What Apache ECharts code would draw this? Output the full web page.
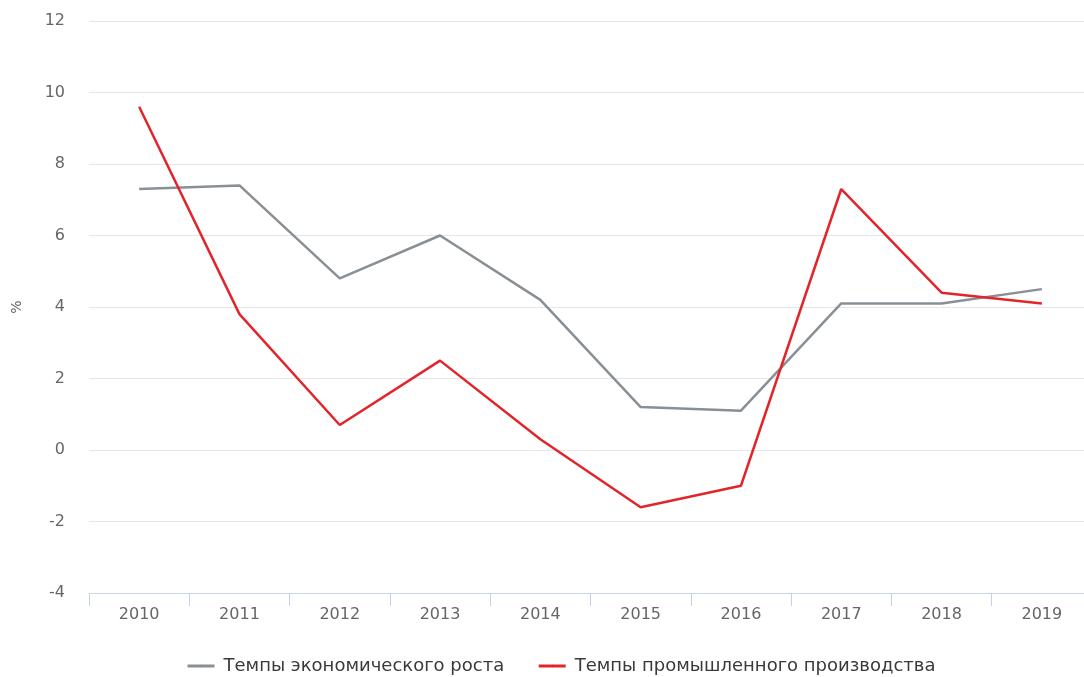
<!DOCTYPE html>
<html>
<head>
<meta charset="utf-8">
<script src="https://cdn.jsdelivr.net/npm/echarts@6/dist/echarts.min.js"></script>
<style>
  html, body { margin: 0; padding: 0; background: #fff; }
  #main { width: 1084px; height: 677px; }
</style>
</head>
<body>
<div id="main"></div>
<script>
// годы
var years = ['2010', '2011', '2012', '2013', '2014', '2015', '2016', '2017', '2018', '2019'];
// Темпы экономического роста, %
var econGrowth = [7.3, 7.4, 4.8, 6.0, 4.2, 1.2, 1.1, 4.1, 4.1, 4.5];
// Темпы промышленного производства, %
var industryGrowth = [9.6, 3.8, 0.7, 2.5, 0.3, -1.6, -1.0, 7.3, 4.4, 4.1];

var chart = echarts.init(document.getElementById('main'));

var option = {
    backgroundColor: '#FFFFFF',
    textStyle: { fontFamily: '"DejaVu Sans", sans-serif' },
    grid: {
        left: 89,
        width: 1003,
        top: 21,
        bottom: 84,
        outerBoundsMode: 'none'
    },
    legend: {
        top: 652,
        left: 181,
        itemWidth: 27,
        itemHeight: 3,
        itemGap: 33,
        lineStyle: { width: 3 },
        textStyle: { color: '#3a3a3a', fontSize: 18, padding: [0, 0, 0, 4] },
        data: ['Темпы экономического роста', 'Темпы промышленного производства']
    },
    xAxis: {
        type: 'category',
        data: years,
        axisLine: { onZero: false, lineStyle: { color: '#ccd6eb', width: 1 } },
        axisTick: { show: true, length: 13, lineStyle: { color: '#c5d0e6' } },
        axisLabel: { color: '#666666', fontSize: 16, margin: 14 }
    },
    yAxis: {
        type: 'value',
        min: -4,
        max: 12,
        interval: 2,
        name: '%',
        nameLocation: 'middle',
        nameRotate: 90,
        nameGap: 65,
        nameTextStyle: { color: '#666666', fontSize: 14 },
        axisLine: { show: false },
        axisTick: { show: false },
        axisLabel: { color: '#666666', fontSize: 16, margin: 24 },
        splitLine: { lineStyle: { color: '#e6e6e6', width: 1 } }
    },
    series: [{
        name: 'Темпы экономического роста',
        type: 'line',
        symbol: 'none',
        data: econGrowth,
        itemStyle: { color: '#899095' },
        lineStyle: { color: '#899095', width: 2.5 }
    }, {
        name: 'Темпы промышленного производства',
        type: 'line',
        symbol: 'none',
        data: industryGrowth,
        itemStyle: { color: '#e2252b' },
        lineStyle: { color: '#e2252b', width: 2.5 }
    }]
};

chart.setOption(option);
</script>
</body>
</html>
